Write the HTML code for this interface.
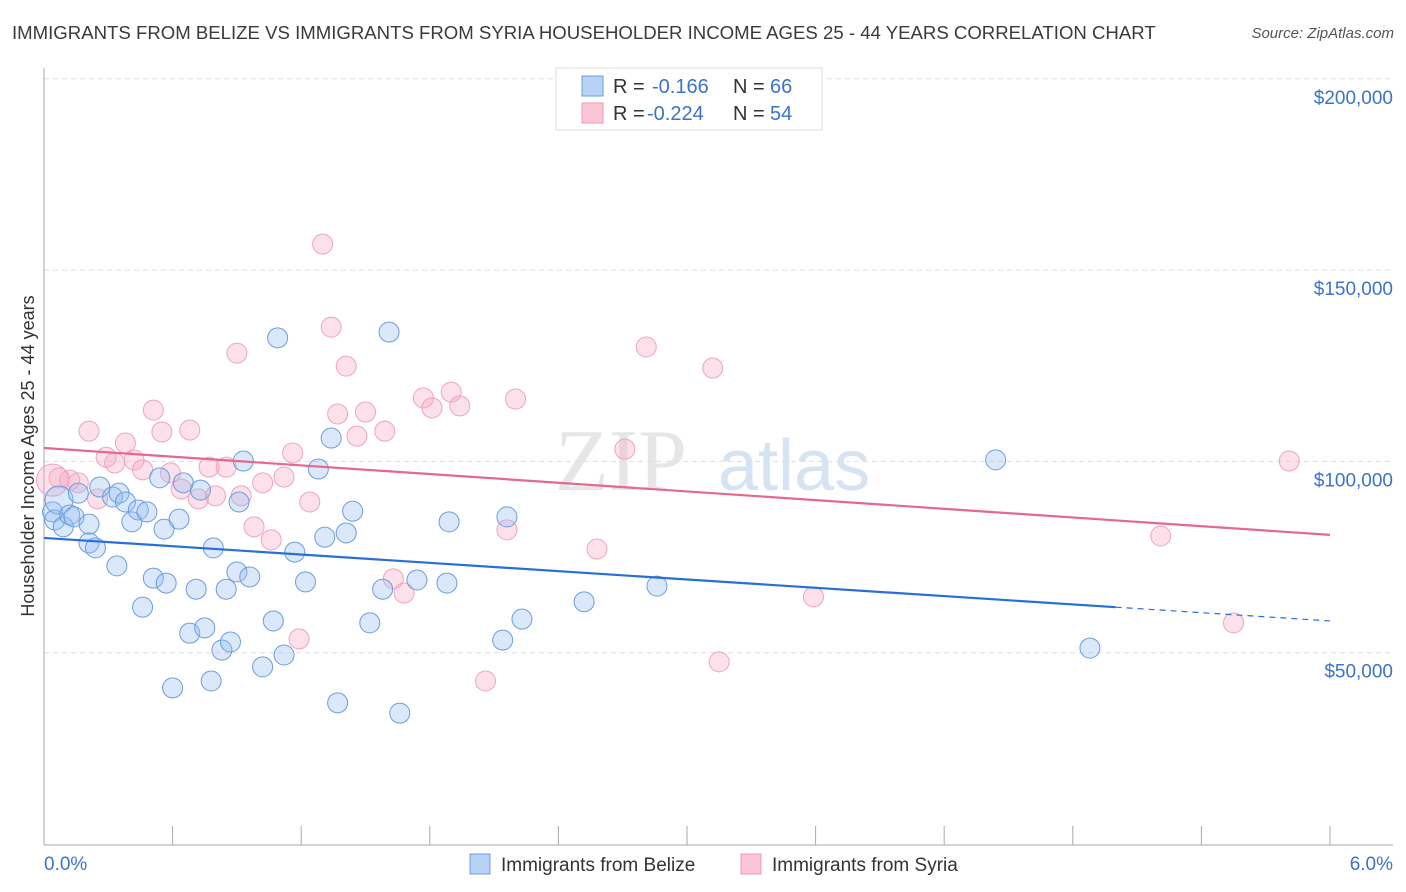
<!DOCTYPE html>
<html><head><meta charset="utf-8">
<style>
body{margin:0;background:#fff;font-family:"Liberation Sans",sans-serif;}
#wrap{position:relative;width:1406px;height:892px;overflow:hidden;}
.title{position:absolute;left:12px;top:22px;font-size:18.6px;color:#3a3a3a;}
.src{position:absolute;right:12px;top:25px;font-size:15px;color:#555;font-style:italic;}
</style></head><body>
<div id="wrap">
<div class="title">IMMIGRANTS FROM BELIZE VS IMMIGRANTS FROM SYRIA HOUSEHOLDER INCOME AGES 25 - 44 YEARS CORRELATION CHART</div>
<div class="src">Source: ZipAtlas.com</div>
<svg id="svg" width="1406" height="892" style="position:absolute;left:0;top:0"></svg>
</div>
<script>
const blueX=[0.04,0.05,0.09,0.07,0.12,0.14,0.16,0.21,0.21,0.24,0.26,0.32,0.34,0.35,0.38,0.41,0.44,0.46,0.48,0.51,0.54,0.56,0.57,0.60,0.63,0.65,0.68,0.71,0.73,0.75,0.78,0.79,0.83,0.85,0.87,0.90,0.91,0.93,0.96,1.02,1.07,1.09,1.12,1.17,1.22,1.28,1.31,1.34,1.37,1.41,1.44,1.52,1.58,1.61,1.66,1.74,1.88,1.89,2.14,2.16,2.23,2.52,2.86,4.44,4.88];
const blueY=[86.8,84.7,82.9,89.9,86.0,85.5,91.7,83.6,78.7,77.4,93.3,90.7,72.7,91.7,89.4,84.2,87.3,61.9,86.8,69.5,95.7,82.3,68.2,40.8,84.9,94.4,55.1,66.6,92.5,56.5,42.6,77.4,50.7,66.6,52.8,71.1,89.4,100.1,69.8,46.3,58.3,132.3,49.4,76.3,68.5,98.0,80.2,106.1,36.9,81.3,87.0,57.8,66.6,133.8,34.2,69.0,68.2,84.2,53.3,85.5,58.8,63.3,67.4,100.4,51.2];
const pinkX=[0.04,0.07,0.12,0.16,0.21,0.25,0.29,0.33,0.38,0.42,0.46,0.51,0.55,0.59,0.64,0.68,0.72,0.77,0.80,0.85,0.90,0.92,0.98,1.02,1.06,1.12,1.16,1.19,1.24,1.30,1.34,1.37,1.41,1.46,1.50,1.59,1.63,1.68,1.77,1.81,1.90,1.94,2.06,2.16,2.20,2.58,2.71,2.81,3.12,3.15,3.59,5.21,5.55,5.81];
const pinkY=[95.1,95.7,95.1,94.4,107.9,90.2,101.1,99.6,104.8,100.4,97.8,113.4,107.7,97.0,92.8,108.2,90.2,98.5,91.0,98.5,128.3,91.0,82.9,94.4,79.5,95.9,102.2,53.6,89.4,156.8,135.1,112.4,124.9,106.6,112.9,107.9,69.3,65.6,116.6,114.0,118.1,114.5,42.6,82.1,116.3,77.1,103.2,129.9,124.4,47.6,64.6,80.5,57.8,100.1];
const blueTrend=[80.0,61.9,58.3]; // at x=0, 5.0, 6.0
const pinkTrend=[103.5,80.8];     // at x=0, 6.0
const yTicks=[50,100,150,200];
const yTickLabels=["$50,000","$100,000","$150,000","$200,000"];

const X=v=>44+v*214.33, Y=v=>844-v*3.826;
const svg=document.getElementById('svg');
const NS='http://www.w3.org/2000/svg';
function mk(t,a){const e=document.createElementNS(NS,t);for(const k in a)e.setAttribute(k,a[k]);svg.appendChild(e);return e;}
let w=mk('text',{x:555,y:490,'font-size':88,fill:'#e6e6e6','font-family':'Liberation Serif'});w.textContent='ZIP';


w=mk('text',{x:718,y:490,'font-size':72,fill:'#d6e3f3','font-family':'Liberation Sans'});w.textContent='atlas';


yTicks.forEach((t,i)=>{
 const g=mk('line',{x1:44,x2:1393,y1:Y(t),y2:Y(t),stroke:'#ddd','stroke-dasharray':'5,4'});
 
 
 const l=mk('text',{x:1393,y:Y(t)+25,'text-anchor':'end','font-size':19,fill:'#3b73cc'});l.textContent=yTickLabels[i];
 
 
});
let ax=mk('line',{x1:44,x2:44,y1:68,y2:845,stroke:'#aaa'});


ax=mk('line',{x1:44,x2:1393,y1:845,y2:845,stroke:'#aaa'});


for(let i=0;i<=10;i++){const t=mk('line',{x1:X(i*0.6),x2:X(i*0.6),y1:826,y2:845,stroke:'#aaa'});
 
 }
let tl=mk('text',{x:44,y:870,'font-size':19,fill:'#3b73cc'});tl.textContent='0.0%';


tl=mk('text',{x:1393,y:870,'font-size':19,fill:'#3b73cc','text-anchor':'end'});tl.textContent='6.0%';


tl=mk('text',{x:34,y:456,'font-size':18,fill:'#333','text-anchor':'middle',transform:'rotate(-90 34 456)'});tl.textContent='Householder Income Ages 25 - 44 years';


function dots(xs,ys,fill,stroke,name){xs.forEach((x,i)=>{
 const r=(i===0&&name==='pink')?16:(i===3&&name==='blue')?14:10;
 const c=mk('circle',{cx:X(x),cy:Y(ys[i]),r:r,fill:fill,stroke:stroke,'stroke-width':1});
 
 });}
dots(pinkX,pinkY,'rgba(246,170,195,0.35)','#efa3bf','pink');
dots(blueX,blueY,'rgba(150,190,240,0.35)','#6a9de0','blue');
let tr=mk('line',{x1:X(0),y1:Y(blueTrend[0]),x2:X(5.0),y2:Y(blueTrend[1]),stroke:'#2a6fd6','stroke-width':2.2});


tr=mk('line',{x1:X(5.0),y1:Y(blueTrend[1]),x2:X(6.0),y2:Y(blueTrend[2]),stroke:'#2a6fd6','stroke-width':1.2,'stroke-dasharray':'6,5'});


tr=mk('line',{x1:X(0),y1:Y(pinkTrend[0]),x2:X(6.0),y2:Y(pinkTrend[1]),stroke:'#e4688f','stroke-width':2.2});


let lb=mk('rect',{x:556,y:68,width:266,height:62,fill:'#fff',stroke:'#ddd'});


[[0,'#b8d2f5','#6d9de0','-0.166','66',652],[1,'#fac6d6','#ee9ab8','-0.224','54',647]].forEach(([i,f,s,r,n,rx])=>{
 const y=86+i*27;
 const q=mk('rect',{x:582,y:y-10,width:21,height:20,fill:f,stroke:s});
 
 
 let t=mk('text',{x:613,y:y+7,'font-size':20,fill:'#333'});t.textContent='R =';
 
 
 t=mk('text',{x:rx,y:y+7,'font-size':20,fill:'#3b73cc'});t.textContent=r;
 
 
 t=mk('text',{x:733,y:y+7,'font-size':20,fill:'#333'});t.textContent='N =';
 
 
 t=mk('text',{x:770,y:y+7,'font-size':20,fill:'#3b73cc'});t.textContent=n;
 
 
});
[[470,'#b8d2f5','#6d9de0','Immigrants from Belize'],[741,'#fac6d6','#ee9ab8','Immigrants from Syria']].forEach(([x,f,s,l])=>{
 const q=mk('rect',{x:x,y:854,width:20,height:20,fill:f,stroke:s});
 
 
 const t=mk('text',{x:x+31,y:871,'font-size':19,fill:'#333'});t.textContent=l;
 
 
});
</script>
</body></html>
